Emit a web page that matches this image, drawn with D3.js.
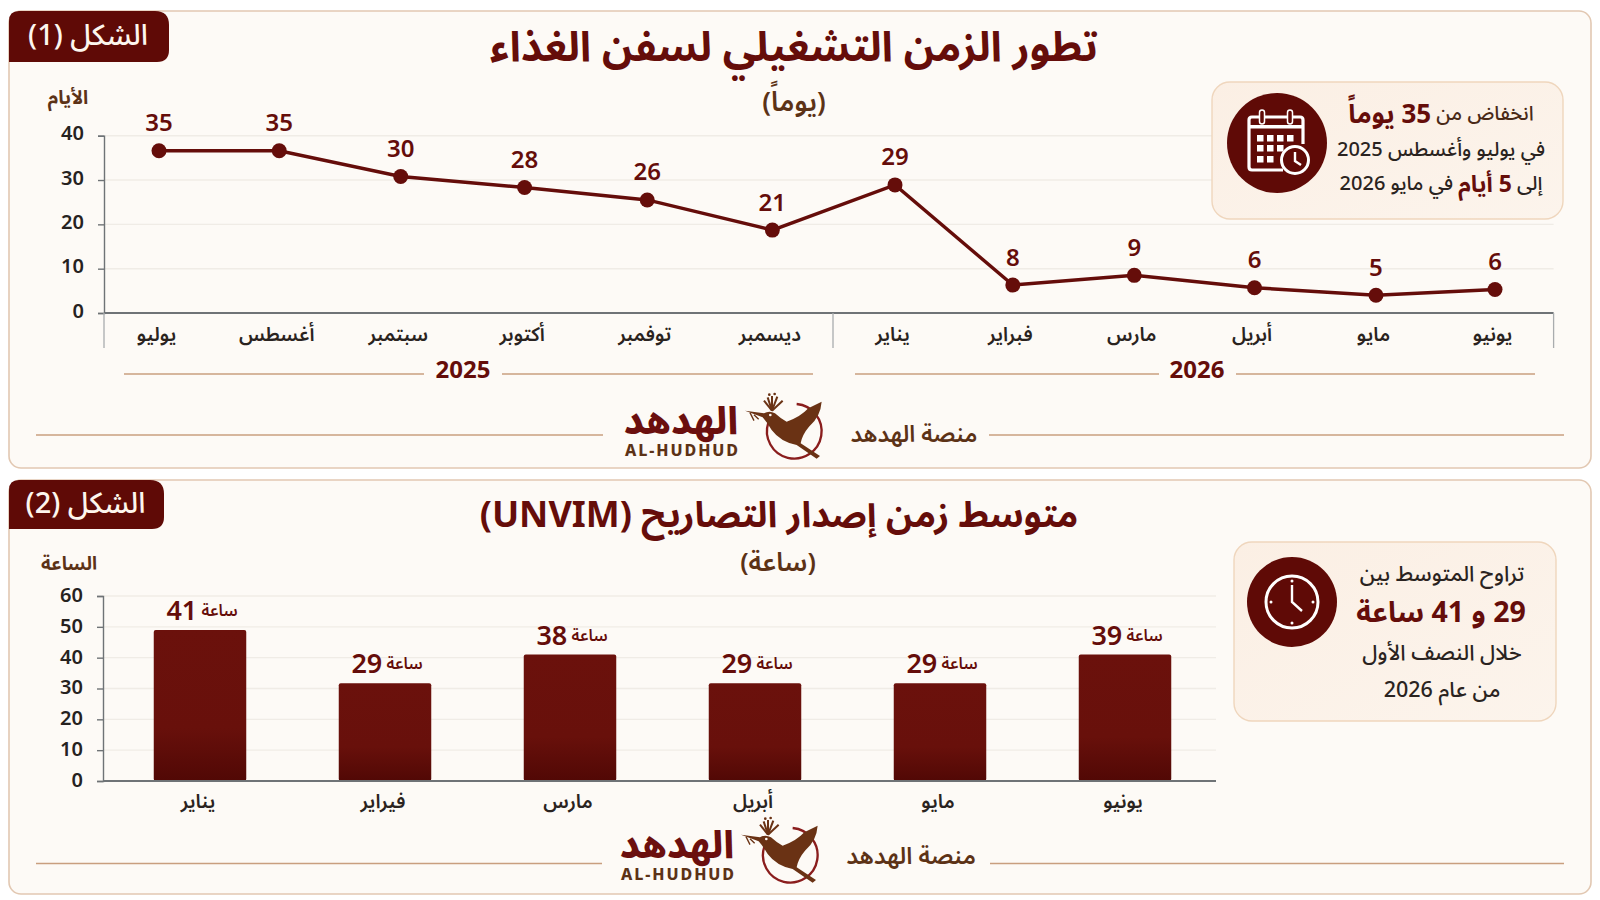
<!DOCTYPE html>
<html lang="ar">
<head>
<meta charset="utf-8">
<title>الشكل</title>
<script src="https://cdn.jsdelivr.net/npm/d3@7"></script>
<style>
  html, body { margin: 0; padding: 0; background: #ffffff; }
  svg { display: block; }
  text { font-family: "Noto Sans Arabic", "Noto Sans", "Open Sans", "DejaVu Sans", sans-serif; }
</style>
</head>
<body>
<script>
// figure 1 data
var months1 = ["يوليو", "أغسطس", "سبتمبر", "أكتوبر", "توفمبر", "ديسمبر", "يناير", "فبراير", "مارس", "أبريل", "مايو", "يونيو"];
var monthSlots = [0, 0.99, 1.99, 3.01, 4.02, 5.05, 6.06, 7.03, 8.03, 9.02, 10.02, 11]; // months are not quite evenly spaced
var days1 = [36.6, 36.6, 30.8, 28.3, 25.5, 18.7, 28.9, 6.3, 8.5, 5.7, 4, 5.3]; // drawn height
var dayLabels = ["35", "35", "30", "28", "26", "21", "29", "8", "9", "6", "5", "6"]; // printed label
var dayTicks = [0, 10, 20, 30, 40];

// figure 2 data
var months2 = ["يناير", "فيراير", "مارس", "أبريل", "مايو", "يونيو"];
var hours2 = [49, 31.7, 41, 31.7, 31.7, 41]; // drawn height
var hourLabels = ["41", "29", "38", "29", "29", "39"]; // printed label
var hourTicks = [0, 10, 20, 30, 40, 50, 60];

var maroon = "#5f0a06", darkMaroon = "#650d0a", brown = "#5c3216", ink = "#2a2320", axisGray = "#6f7376", grid = "#f0ece6", rule = "#c99f7f";

var svg = d3.select("body").append("svg").attr("width", 1600).attr("height", 900);
var defs = svg.append("defs");

var barGrad = defs.append("linearGradient").attr("id", "barGrad").attr("x1", 0).attr("x2", 0).attr("y1", 0).attr("y2", 1);
barGrad.append("stop").attr("offset", "0%").attr("stop-color", "#6b110c");
barGrad.append("stop").attr("offset", "65%").attr("stop-color", "#68100b");
barGrad.append("stop").attr("offset", "100%").attr("stop-color", "#510805");

var boxGrad = defs.append("linearGradient").attr("id", "boxGrad").attr("x1", 0).attr("x2", 1).attr("y1", 0).attr("y2", 1);
boxGrad.append("stop").attr("offset", "0%").attr("stop-color", "#fbefe4");
boxGrad.append("stop").attr("offset", "100%").attr("stop-color", "#fcf4ec");

function label(g, x, y, str, size, weight, color) {
  return g.append("text")
    .attr("x", x).attr("y", y)
    .attr("direction", "rtl")
    .attr("text-anchor", "middle")
    .attr("dominant-baseline", "central")
    .attr("font-size", size)
    .attr("font-weight", weight)
    .attr("fill", color)
    .text(str);
}

function hline(g, x1, x2, y, color) {
  g.append("line").attr("x1", x1).attr("x2", x2).attr("y1", y).attr("y2", y)
    .attr("stroke", color).attr("stroke-width", 1.4);
}

function panel(y, h, badgeW, badgeH, badgeText) {
  svg.append("rect").attr("x", 9).attr("y", y).attr("width", 1582).attr("height", h).attr("rx", 12)
    .attr("fill", "#fdfaf6").attr("stroke", "#e2c8b2").attr("stroke-width", 1.6);
  svg.append("path")
    .attr("d", "M9," + (y + badgeH) + "V" + (y + 10) + "Q9," + y + " 19," + y + "H" + (9 + badgeW - 14) +
      "Q" + (9 + badgeW) + "," + y + " " + (9 + badgeW) + "," + (y + 14) + "V" + (y + badgeH - 12) +
      "Q" + (9 + badgeW) + "," + (y + badgeH) + " " + (9 + badgeW - 12) + "," + (y + badgeH) + "Z")
    .attr("fill", maroon);
  label(svg, 9 + badgeW / 2 - 1, y + badgeH / 2 - 1, badgeText, 29, 500, "#fdf6ee");
}

// hoopoe logo
function logo(dx, dy) {
  var g = svg.append("g").attr("transform", "translate(" + dx + "," + dy + ")");
  label(g, 681, 42, "الهدهد", 38, 800, "#6b0f0e");
  g.append("text").attr("x", 625).attr("y", 71).attr("font-size", 16).attr("font-weight", 800)
    .attr("letter-spacing", 1.9).attr("fill", "#5c3216").attr("dominant-baseline", "central").text("AL-HUDHUD");
  var b = g.append("g").attr("transform", "translate(600,0) scale(0.3333)");
  b.append("path").attr("d", "M505,128 A82,82 0 1 0 590,72")
    .attr("fill", "none").attr("stroke", "#8a1d1d").attr("stroke-width", 7);
  b.append("path")
    .attr("d", "M435,92 L492,100 Q508,90 525,100 Q542,116 560,125 Q600,112 625,85 L665,65 Q662,110 627,140 Q606,165 602,190 L660,228 L650,236 L590,195 Q542,186 515,150 Q502,128 488,112 Z")
    .attr("fill", "#6a3214");
  b.append("path").attr("d", "M450,98 L462,122 M462,104 L476,118").attr("stroke", "#6a3214").attr("stroke-width", 4).attr("fill", "none");
  var fan = [[492, 62], [503, 52], [516, 48], [532, 50], [548, 62]];
  fan.forEach(function(p) {
    b.append("line").attr("x1", 516).attr("y1", 92).attr("x2", p[0]).attr("y2", p[1])
      .attr("stroke", "#6a3214").attr("stroke-width", 6);
  });
  [[508, 44], [524, 42]].forEach(function(p) {
    b.append("circle").attr("cx", p[0]).attr("cy", p[1]).attr("r", 4).attr("fill", "#6a3214");
  });
  b.append("circle").attr("cx", 511).attr("cy", 105).attr("r", 4).attr("fill", "#fdfaf6");
}

function callout(x, y, w, h) {
  svg.append("rect").attr("x", x).attr("y", y).attr("width", w).attr("height", h).attr("rx", 18)
    .attr("fill", "url(#boxGrad)").attr("stroke", "#efd6bd").attr("stroke-width", 1.4);
}

function calendarIcon(cx, cy) {
  var g = svg.append("g").attr("transform", "translate(" + cx + "," + cy + ")");
  g.append("circle").attr("r", 50).attr("fill", maroon);
  g.append("path").attr("d", "M6,27 H-25 Q-28,27 -28,24 V-23 Q-28,-26 -25,-26 H23 Q26,-26 26,-23 V1")
    .attr("fill", "none").attr("stroke", "#fff").attr("stroke-width", 3.2);
  g.append("rect").attr("x", -28).attr("y", -18).attr("width", 54).attr("height", 3.5).attr("fill", "#fff");
  [-15, 13].forEach(function(x) {
    g.append("rect").attr("x", x - 2.5).attr("y", -33).attr("width", 5).attr("height", 14).attr("rx", 2.5)
      .attr("fill", maroon).attr("stroke", "#fff").attr("stroke-width", 1.5);
  });
  [[-20, -8], [-10, -8], [0, -8], [10, -8], [-20, 2], [-10, 2], [0, 2], [-20, 13], [-10, 13]].forEach(function(p) {
    g.append("rect").attr("x", p[0]).attr("y", p[1]).attr("width", 6.5).attr("height", 6.5).attr("fill", "#fff");
  });
  g.append("circle").attr("cx", 18).attr("cy", 17).attr("r", 13.5).attr("fill", maroon).attr("stroke", "#fff").attr("stroke-width", 3);
  g.append("path").attr("d", "M18,9 V18 L24,22").attr("fill", "none").attr("stroke", "#fff").attr("stroke-width", 2.4);
}

function clockIcon(cx, cy) {
  var g = svg.append("g").attr("transform", "translate(" + cx + "," + cy + ")");
  g.append("circle").attr("r", 45).attr("fill", maroon);
  g.append("circle").attr("r", 26).attr("fill", "none").attr("stroke", "#fff").attr("stroke-width", 3);
  g.append("path").attr("d", "M0,-17 V0 L10,9").attr("fill", "none").attr("stroke", "#fff").attr("stroke-width", 2.4);
  [[0, -21], [21, 0], [0, 21], [-21, 0]].forEach(function(p) {
    g.append("circle").attr("cx", p[0]).attr("cy", p[1]).attr("r", 1.5).attr("fill", "#fff");
  });
}

// ---------- figure 1 ----------
panel(11, 457, 160, 51, "الشكل (1)");
label(svg, 794, 48, "تطور الزمن التشغيلي لسفن الغذاء", 41.5, 700, darkMaroon);
label(svg, 794, 102, "(يوماً)", 27, 600, brown);
label(svg, 68, 98, "الأيام", 19, 700, brown);

var y1 = d3.scaleLinear().domain([0, 40]).range([313, 135.7]);
var x1 = d3.scaleLinear().domain([0, 11]).range([159, 1495]);

var plot1 = svg.append("g");
plot1.selectAll(".grid").data(dayTicks.slice(1)).enter().append("line")
  .attr("x1", 104).attr("x2", 1553.6)
  .attr("y1", function(d) { return y1(d); }).attr("y2", function(d) { return y1(d); })
  .attr("stroke", grid).attr("stroke-width", 1.4);

var yAxis1 = plot1.append("g").attr("transform", "translate(104,0)")
  .call(d3.axisLeft(y1).tickValues(dayTicks).tickSize(6).tickPadding(14));
yAxis1.selectAll("text").attr("font-size", 20).attr("font-weight", 600).attr("fill", "#26221f").attr("dy", "0.2em");
yAxis1.selectAll("line, path").attr("stroke", axisGray).attr("stroke-width", 1.4);

var xAxis1 = plot1.append("g").attr("transform", "translate(0,313)")
  .call(d3.axisBottom(x1).tickValues(monthSlots).tickSize(0).tickPadding(14)
    .tickFormat(function(s) { return months1[monthSlots.indexOf(s)]; }));
xAxis1.select(".domain").remove();
xAxis1.selectAll("text").attr("font-size", 19.5).attr("font-weight", 600).attr("fill", ink).attr("dx", -3);
plot1.append("line").attr("x1", 104).attr("x2", 1553.6).attr("y1", 313).attr("y2", 313).attr("stroke", axisGray).attr("stroke-width", 2);
[104, 833, 1553.6].forEach(function(x) {
  plot1.append("line").attr("x1", x).attr("x2", x).attr("y1", 313).attr("y2", 348).attr("stroke", "#a9acae").attr("stroke-width", 1.3);
});

// callout sits on top of the grid
callout(1212, 82, 351, 137);
calendarIcon(1277, 143);
var c1 = label(svg, 1441, 114, "", 20, 500, "#4a2a17");
c1.append("tspan").text("انخفاض من ");
c1.append("tspan").attr("font-size", 26).attr("font-weight", 700).attr("fill", darkMaroon).text("35 يوماً");
label(svg, 1441, 150, "في يوليو وأغسطس 2025", 20, 500, ink);
var c2 = label(svg, 1441, 184, "", 20, 500, ink);
c2.append("tspan").text("إلى ");
c2.append("tspan").attr("font-size", 23).attr("font-weight", 700).attr("fill", darkMaroon).text("5 أيام");
c2.append("tspan").text(" في مايو 2026");

var line1 = d3.line().x(function(d, i) { return x1(monthSlots[i]); }).y(function(d) { return y1(d); });
plot1.append("path").datum(days1).attr("d", line1)
  .attr("fill", "none").attr("stroke", darkMaroon).attr("stroke-width", 3.4);
plot1.selectAll(".dot").data(days1).enter().append("circle")
  .attr("cx", function(d, i) { return x1(monthSlots[i]); })
  .attr("cy", function(d) { return y1(d); })
  .attr("r", 7.5).attr("fill", darkMaroon);
plot1.selectAll(".val").data(days1).enter().append("text")
  .attr("x", function(d, i) { return x1(monthSlots[i]); })
  .attr("y", function(d) { return y1(d) - 27; })
  .attr("text-anchor", "middle").attr("dominant-baseline", "central")
  .attr("font-size", 24).attr("font-weight", 600).attr("fill", darkMaroon)
  .text(function(d, i) { return dayLabels[i]; });

// year brackets
label(svg, 463, 370, "2025", 24, 700, darkMaroon);
hline(svg, 124, 424, 374, rule);
hline(svg, 502, 813, 374, rule);
label(svg, 1197, 370, "2026", 24, 700, darkMaroon);
hline(svg, 855, 1159, 374, rule);
hline(svg, 1236, 1535, 374, rule);

hline(svg, 36, 603, 435, rule);
hline(svg, 989, 1564, 435, rule);
label(svg, 914, 434, "منصة الهدهد", 23, 600, brown);
logo(0, 380);

// ---------- figure 2 ----------
panel(480, 414, 155, 49, "الشكل (2)");
label(svg, 779, 516, "متوسط زمن إصدار التصاريح (UNVIM)", 36, 700, darkMaroon);
label(svg, 778, 562, "(ساعة)", 26, 600, brown);
label(svg, 69, 564, "الساعة", 18.5, 700, brown);

var y2 = d3.scaleLinear().domain([0, 60]).range([781, 596]);
var x2 = d3.scaleBand().domain(d3.range(months2.length)).range([107.5, 1217.5]).paddingInner(0.5).paddingOuter(0.25);

var plot2 = svg.append("g");
plot2.selectAll(".grid").data(hourTicks.slice(1)).enter().append("line")
  .attr("x1", 103).attr("x2", 1216)
  .attr("y1", function(d) { return y2(d); }).attr("y2", function(d) { return y2(d); })
  .attr("stroke", grid).attr("stroke-width", 1.4);

var yAxis2 = plot2.append("g").attr("transform", "translate(103,0)")
  .call(d3.axisLeft(y2).tickValues(hourTicks).tickSize(6).tickPadding(14));
yAxis2.selectAll("text").attr("font-size", 20).attr("font-weight", 600).attr("fill", "#26221f").attr("dy", "0.27em");
yAxis2.selectAll("line, path").attr("stroke", axisGray).attr("stroke-width", 1.4);

plot2.selectAll(".bar").data(hours2).enter().append("rect")
  .attr("x", function(d, i) { return x2(i); })
  .attr("y", function(d) { return y2(d); })
  .attr("width", x2.bandwidth())
  .attr("height", function(d) { return y2(0) - y2(d); })
  .attr("rx", 2)
  .attr("fill", "url(#barGrad)");

var xAxis2 = plot2.append("g").attr("transform", "translate(0,781)")
  .call(d3.axisBottom(x2).tickSize(0).tickPadding(13).tickFormat(function(i) { return months2[i]; }));
xAxis2.select(".domain").remove();
xAxis2.selectAll("text").attr("font-size", 19.5).attr("font-weight", 600).attr("fill", ink).attr("dx", -2);
plot2.append("line").attr("x1", 103).attr("x2", 1216).attr("y1", 781).attr("y2", 781).attr("stroke", axisGray).attr("stroke-width", 2);

plot2.selectAll(".val").data(hours2).enter().append("text")
  .attr("x", function(d, i) { return x2(i) + x2.bandwidth() / 2 + 2; })
  .attr("y", function(d) { return y2(d) - 19; })
  .attr("direction", "rtl").attr("text-anchor", "middle").attr("dominant-baseline", "central")
  .attr("fill", darkMaroon).attr("font-weight", 600).attr("font-size", 16)
  .each(function(d, i) {
    var t = d3.select(this);
    t.append("tspan").text("ساعة ");
    t.append("tspan").attr("font-size", 27).text(hourLabels[i]);
  });

callout(1234, 542, 322, 179);
clockIcon(1292, 602);
label(svg, 1442, 574, "تراوح المتوسط بين", 21.5, 500, ink);
label(svg, 1441, 613, "29 و 41 ساعة", 28.5, 700, darkMaroon);
label(svg, 1442, 653, "خلال النصف الأول", 21.5, 500, ink);
label(svg, 1442, 690, "من عام 2026", 21.5, 500, ink);

hline(svg, 36, 602, 863.5, rule);
hline(svg, 990, 1564, 863.5, rule);
label(svg, 911, 856, "منصة الهدهد", 23.5, 600, brown);
logo(-4, 804);
</script>
</body>
</html>
